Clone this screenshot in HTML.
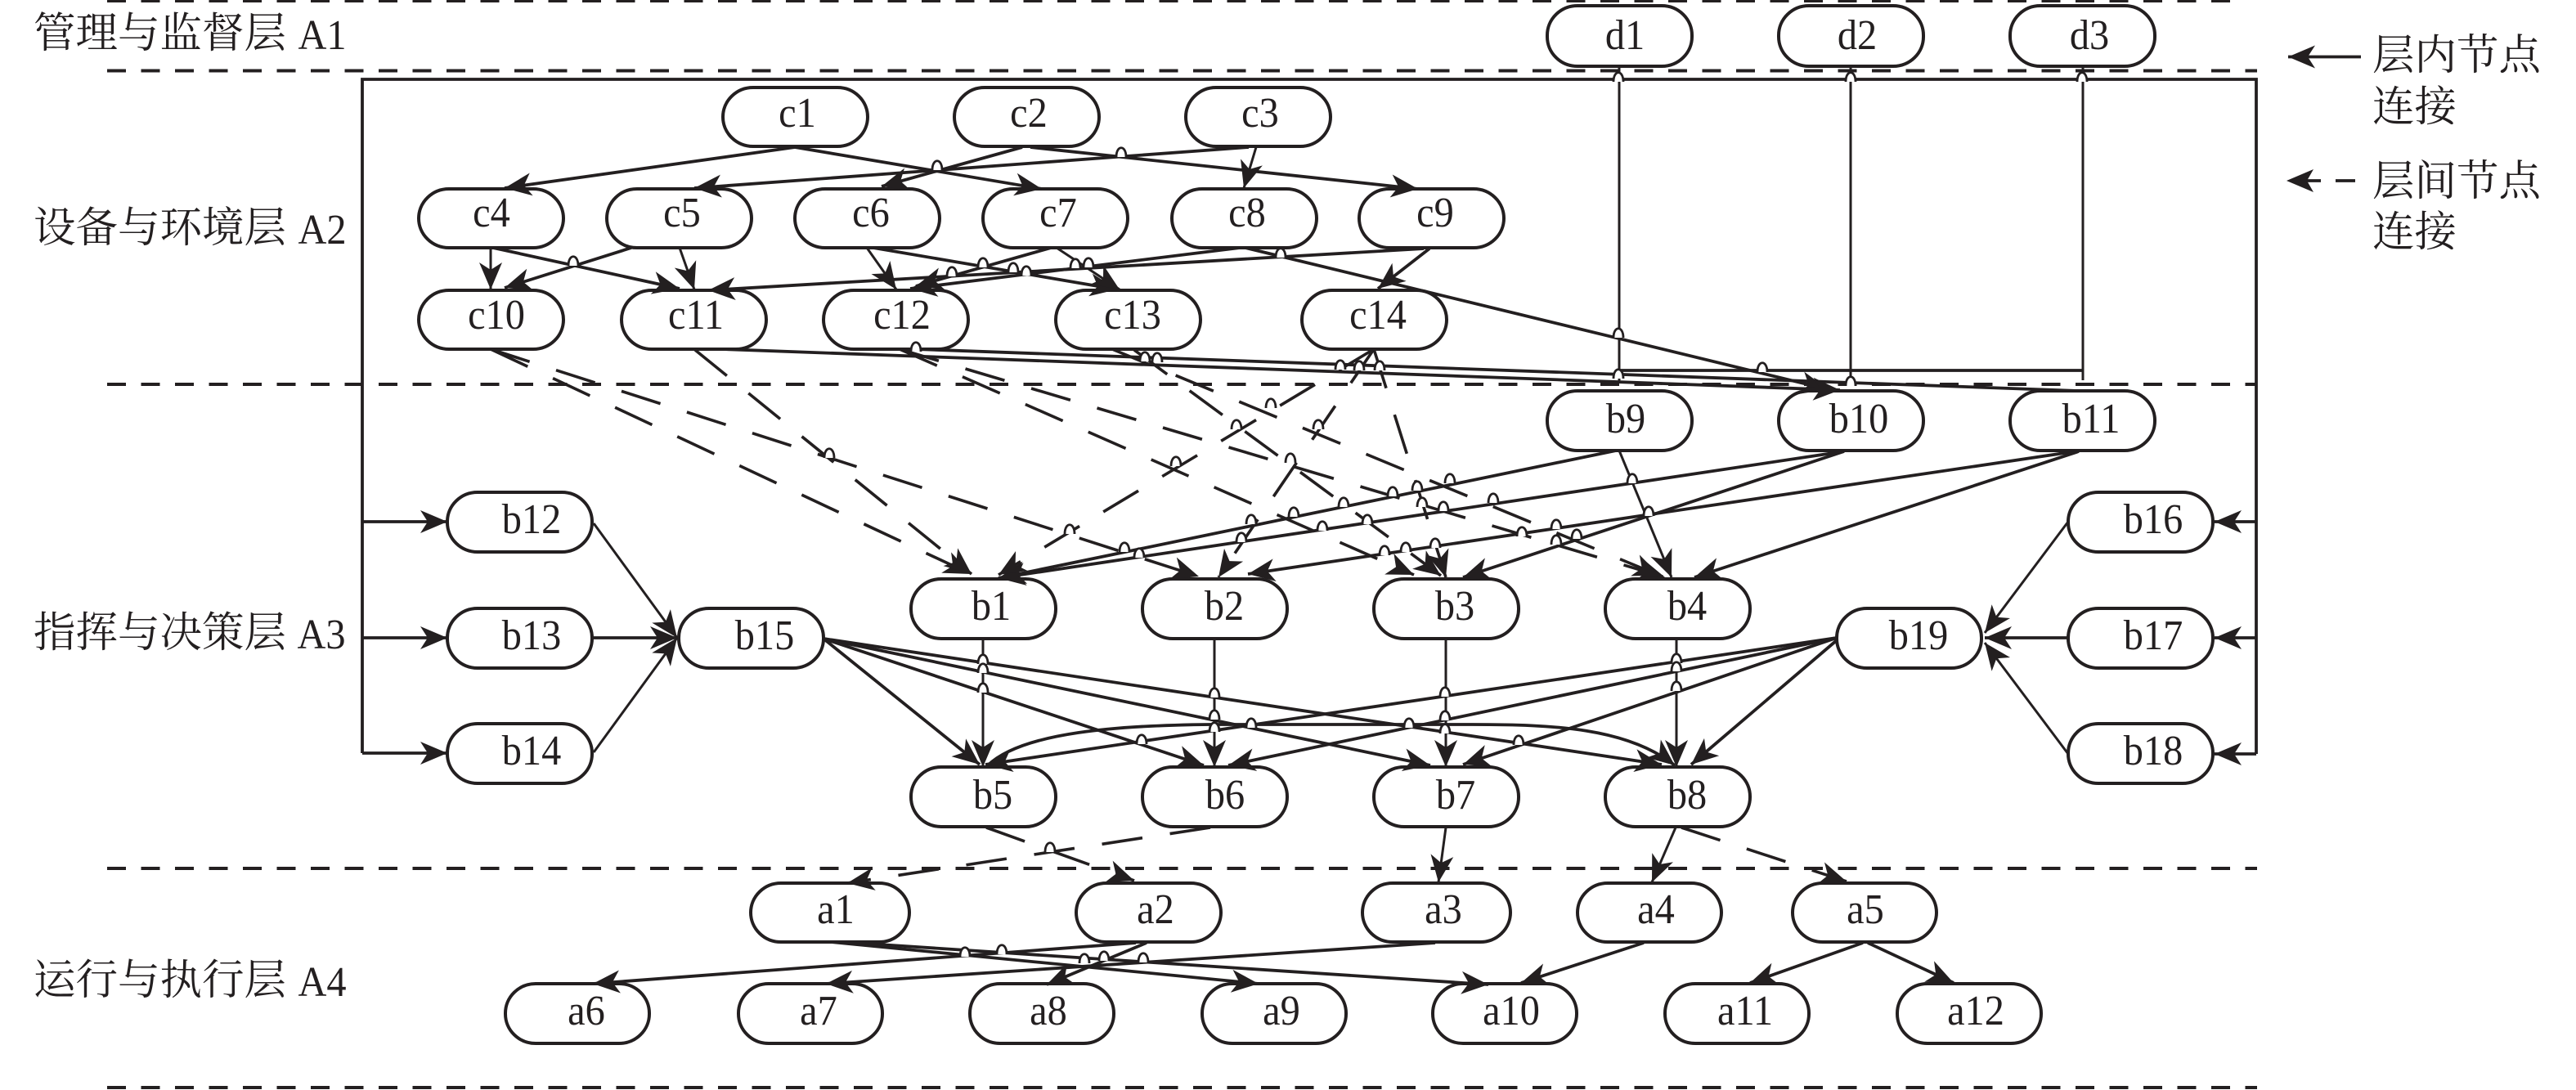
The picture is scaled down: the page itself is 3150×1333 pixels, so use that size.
<!DOCTYPE html>
<html>
<head>
<meta charset="utf-8">
<style>
html,body{margin:0;padding:0;background:#fff}
svg{display:block}
.n rect{fill:#fff;stroke:#231f20;stroke-width:4}
.t text{font-family:"Liberation Serif","Noto Serif CJK SC",serif;font-size:52px;fill:#231f20;text-anchor:middle}
.z text{font-family:"Noto Serif CJK SC","Liberation Serif",serif;font-size:51.500px;fill:#231f20}
.d path{stroke-dasharray:23 18.5;stroke-width:4;fill:none;stroke:#231f20}
.e path{fill:none;stroke:#231f20;stroke-width:3.8}
.v path{fill:none;stroke:#231f20;stroke-width:3}
.l path{fill:none;stroke:#231f20;stroke-width:3.6;stroke-dasharray:50 34}
#h{fill:#fff;stroke:#231f20;stroke-width:2.8}
</style>
</head>
<body>
<svg xmlns="http://www.w3.org/2000/svg" width="3150" height="1333" viewBox="0 0 3150 1333">
<defs>
<marker id="m" markerUnits="userSpaceOnUse" markerWidth="36" markerHeight="32" viewBox="0 0 36 32" refX="34" refY="16" orient="auto"><path d="M34 16L1 2L10 16L1 30Z" fill="#231f20"/></marker>
<path id="h" d="M-6 5C-6 -10 6 -10 6 5"/>
</defs>
<rect width="3150" height="1333" fill="#fff"/>

<g class="d">
<path d="M131 1H2736"/>
<path d="M131 86.5H2760"/>
<path d="M131 470H2760"/>
<path d="M131 1062H2760"/>
<path d="M131 1330H2760"/>
</g>

<g class="n">
<rect x="1892" y="7" width="177" height="74" rx="37" ry="36"/>
<rect x="2175" y="7" width="177" height="74" rx="37" ry="36"/>
<rect x="2458" y="7" width="177" height="74" rx="37" ry="36"/>
<rect x="884" y="107" width="177" height="72" rx="37" ry="36"/>
<rect x="1167" y="107" width="177" height="72" rx="37" ry="36"/>
<rect x="1450" y="107" width="177" height="72" rx="37" ry="36"/>
<rect x="512" y="231" width="177" height="72" rx="37" ry="36"/>
<rect x="742" y="231" width="177" height="72" rx="37" ry="36"/>
<rect x="972" y="231" width="177" height="72" rx="37" ry="36"/>
<rect x="1202" y="231" width="177" height="72" rx="37" ry="36"/>
<rect x="1433" y="231" width="177" height="72" rx="37" ry="36"/>
<rect x="1662" y="231" width="177" height="72" rx="37" ry="36"/>
<rect x="512" y="355" width="177" height="72" rx="37" ry="36"/>
<rect x="760" y="355" width="177" height="72" rx="37" ry="36"/>
<rect x="1007" y="355" width="177" height="72" rx="37" ry="36"/>
<rect x="1291" y="355" width="177" height="72" rx="37" ry="36"/>
<rect x="1592" y="355" width="177" height="72" rx="37" ry="36"/>
<rect x="1892" y="478" width="177" height="73" rx="37" ry="36"/>
<rect x="2175" y="478" width="177" height="73" rx="37" ry="36"/>
<rect x="2458" y="478" width="177" height="73" rx="37" ry="36"/>
<rect x="2529" y="602" width="177" height="73" rx="37" ry="36"/>
<rect x="2529" y="744" width="177" height="73" rx="37" ry="36"/>
<rect x="2529" y="885" width="177" height="73" rx="37" ry="36"/>
<rect x="2246" y="744" width="177" height="73" rx="37" ry="36"/>
<rect x="830" y="744" width="177" height="73" rx="37" ry="36"/>
<rect x="547" y="602" width="177" height="73" rx="37" ry="36"/>
<rect x="547" y="744" width="177" height="73" rx="37" ry="36"/>
<rect x="547" y="885" width="177" height="73" rx="37" ry="36"/>
<rect x="1114" y="708" width="177" height="73" rx="37" ry="36"/>
<rect x="1397" y="708" width="177" height="73" rx="37" ry="36"/>
<rect x="1680" y="708" width="177" height="73" rx="37" ry="36"/>
<rect x="1963" y="708" width="177" height="73" rx="37" ry="36"/>
<rect x="1114" y="938" width="177" height="73" rx="37" ry="36"/>
<rect x="1397" y="938" width="177" height="73" rx="37" ry="36"/>
<rect x="1680" y="938" width="177" height="73" rx="37" ry="36"/>
<rect x="1963" y="938" width="177" height="73" rx="37" ry="36"/>
<rect x="918" y="1080" width="194" height="72" rx="37" ry="36"/>
<rect x="1316" y="1080" width="177" height="72" rx="37" ry="36"/>
<rect x="1666" y="1080" width="181" height="72" rx="37" ry="36"/>
<rect x="1929" y="1080" width="176" height="72" rx="37" ry="36"/>
<rect x="2192" y="1080" width="176" height="72" rx="37" ry="36"/>
<rect x="618" y="1203" width="176" height="73" rx="37" ry="36"/>
<rect x="903" y="1203" width="176" height="73" rx="37" ry="36"/>
<rect x="1186" y="1203" width="176" height="73" rx="37" ry="36"/>
<rect x="1470" y="1203" width="176" height="73" rx="37" ry="36"/>
<rect x="1752" y="1203" width="176" height="73" rx="37" ry="36"/>
<rect x="2036" y="1203" width="176" height="73" rx="37" ry="36"/>
<rect x="2320" y="1203" width="176" height="73" rx="37" ry="36"/>
</g>

<g class="e">
<path d="M443 921V97H2759V922"/>
<path d="M1980 453H2547"/>
<path d="M1120 427L2542 478"/>
</g>
<g class="v">
<path d="M1980 81V468"/>
<path d="M2263 81V468"/>
<path d="M2547 81V465"/>
</g>

<g class="e" marker-end="url(#m)">
<path d="M443 638H547"/><path d="M443 780H547"/><path d="M443 921H547"/>
<path d="M2759 638H2708"/><path d="M2759 780H2708"/><path d="M2759 922H2708"/>
<path d="M2887 69.500H2798"/>
<path d="M972 180L617 230"/><path d="M972 180L1274 231"/>
<path d="M1250 180L1078 228"/><path d="M1260 180L1734 231"/>
<path d="M1527 180L849 230"/>
<path d="M603 303L831 353"/><path d="M772 303L617 352"/>
<path d="M1068 303L1366 354"/><path d="M1285 303L1120 350"/>
<path d="M1741 304L866 355"/><path d="M1516 303L1113 353"/>
<path d="M1523 303L2235 476"/><path d="M1748 304L1685 353"/>
<path d="M884 427L2250 477"/>
<path d="M1976 551L1221 707"/><path d="M2255 552L1221 707"/>
<path d="M2538 552L1526 702"/><path d="M2255 552L1789 706"/>
<path d="M2542 552L2072 706"/>
<path d="M1007 781L2032 935"/><path d="M1007 781L1749 936"/>
<path d="M1007 781L1472 936"/><path d="M1007 781L1198 935"/>
<path d="M2246 780L1205 935"/><path d="M2246 780L1502 936"/>
<path d="M2246 780L1789 935"/><path d="M2246 783L2068 935"/>
<path d="M1208 936C1250 895 1370 887 1480 886L1800 886C1900 886 1990 890 2048 936"/>
<path d="M2529 780H2427"/>
<path d="M724 780H828"/>
<path d="M1016 1152L1539 1203"/><path d="M1029 1152L1820 1204"/>
<path d="M1389 1153L725 1203"/><path d="M1402 1153L1280 1204"/>
<path d="M1755 1153L1010 1203"/><path d="M2010 1153L1860 1202"/>
<path d="M2278 1153L2140 1202"/><path d="M2284 1153L2389 1202"/>
</g>
<g class="v" marker-end="url(#m)">
<path d="M1536 180L1521 230"/>
<path d="M600 303V354"/><path d="M831 303L849 354"/>
<path d="M1060 303L1096 354"/><path d="M1292 303L1369 354"/>
<path d="M1980 551L2044 706"/>
<path d="M726 640L828 780"/><path d="M726 920L828 780"/>
<path d="M2529 638L2427 774"/><path d="M2529 922L2427 786"/>
<path d="M1202 781V938"/><path d="M1485 781V938"/>
<path d="M1768 781V938"/><path d="M2050 781V938"/>
<path d="M1768 1012L1759 1079"/><path d="M2049 1012L2020 1079"/>
</g>

<g class="l" marker-end="url(#m)">
<path d="M600 427L1187 702"/>
<path d="M600 427L1466 705"/>
<path d="M850 428L1188 702"/>
<path d="M1100 427L1729 703"/>
<path d="M1100 427L2036 706"/>
<path d="M1387 428L1762 704"/>
<path d="M1360 427L2030 704"/>
<path d="M1680 427L1221 703"/>
<path d="M1680 427L1490 706"/>
<path d="M1680 427L1768 706"/>
<path d="M1206 1012L1387 1077"/>
<path d="M1480 1012L1036 1080"/>
<path d="M2056 1012L2258 1078"/>
</g>

<g class="e">
<path d="M2856 221H2880"/>
<path d="M2820 221H2838"/>
</g>
<path d="M2796 221L2829 207L2821 221L2829 235Z" fill="#231f20"/>

<g>
<use href="#h" x="701" y="320"/><use href="#h" x="1146" y="203"/><use href="#h" x="1371" y="187"/>
<use href="#h" x="1566" y="310"/><use href="#h" x="1202" y="322"/><use href="#h" x="1164" y="333"/>
<use href="#h" x="1239" y="328"/><use href="#h" x="1255" y="332"/><use href="#h" x="1315" y="323"/>
<use href="#h" x="1331" y="322"/><use href="#h" x="1979" y="408"/><use href="#h" x="1979" y="458"/>
<use href="#h" x="1979" y="95"/><use href="#h" x="2263" y="95"/><use href="#h" x="2546" y="95"/>
<use href="#h" x="2155" y="450"/><use href="#h" x="2263" y="467"/><use href="#h" x="1120" y="425"/>
<use href="#h" x="1400" y="437"/><use href="#h" x="1415" y="438"/><use href="#h" x="1639" y="447"/>
<use href="#h" x="1662" y="448"/><use href="#h" x="1687" y="448"/><use href="#h" x="1014" y="555"/>
<use href="#h" x="1438" y="565"/><use href="#h" x="1308" y="648"/><use href="#h" x="1375" y="670"/>
<use href="#h" x="1393" y="677"/><use href="#h" x="1202" y="807"/><use href="#h" x="1202" y="818"/>
<use href="#h" x="1202" y="842"/><use href="#h" x="1485" y="848"/><use href="#h" x="1485" y="875"/>
<use href="#h" x="1485" y="890"/><use href="#h" x="1396" y="905"/><use href="#h" x="1554" y="494"/>
<use href="#h" x="1512" y="520"/><use href="#h" x="1612" y="520"/><use href="#h" x="1578" y="561"/>
<use href="#h" x="1773" y="586"/><use href="#h" x="1996" y="586"/><use href="#h" x="1733" y="595"/>
<use href="#h" x="1703" y="602"/><use href="#h" x="1643" y="615"/><use href="#h" x="1826" y="610"/>
<use href="#h" x="1739" y="615"/><use href="#h" x="1765" y="620"/><use href="#h" x="2016" y="626"/>
<use href="#h" x="1582" y="627"/><use href="#h" x="1530" y="636"/><use href="#h" x="1617" y="644"/>
<use href="#h" x="1672" y="636"/><use href="#h" x="1518" y="658"/><use href="#h" x="1861" y="651"/>
<use href="#h" x="1903" y="642"/><use href="#h" x="1928" y="654"/><use href="#h" x="1903" y="661"/>
<use href="#h" x="1693" y="674"/><use href="#h" x="1719" y="670"/><use href="#h" x="1755" y="665"/>
<use href="#h" x="2050" y="806"/><use href="#h" x="2050" y="816"/><use href="#h" x="2050" y="840"/>
<use href="#h" x="1767" y="847"/><use href="#h" x="1767" y="876"/><use href="#h" x="1767" y="892"/>
<use href="#h" x="1530" y="885"/><use href="#h" x="1723" y="885"/><use href="#h" x="1857" y="906"/>
<use href="#h" x="1180" y="1165"/><use href="#h" x="1225" y="1162"/><use href="#h" x="1326" y="1173"/>
<use href="#h" x="1350" y="1170"/><use href="#h" x="1398" y="1172"/><use href="#h" x="1284" y="1037"/>
</g>

<g class="t">
<text transform="translate(1987,60) scale(.93,1)">d1</text>
<text transform="translate(2271,60) scale(.93,1)">d2</text>
<text transform="translate(2555,60) scale(.93,1)">d3</text>
<text transform="translate(975,155) scale(.93,1)">c1</text>
<text transform="translate(1258,155) scale(.93,1)">c2</text>
<text transform="translate(1541,155) scale(.93,1)">c3</text>
<text transform="translate(601,277) scale(.93,1)">c4</text>
<text transform="translate(834,277) scale(.93,1)">c5</text>
<text transform="translate(1065,277) scale(.93,1)">c6</text>
<text transform="translate(1294,277) scale(.93,1)">c7</text>
<text transform="translate(1525,277) scale(.93,1)">c8</text>
<text transform="translate(1755,277) scale(.93,1)">c9</text>
<text transform="translate(607,402) scale(.93,1)">c10</text>
<text transform="translate(851,402) scale(.93,1)">c11</text>
<text transform="translate(1103,402) scale(.93,1)">c12</text>
<text transform="translate(1385,402) scale(.93,1)">c13</text>
<text transform="translate(1685,402) scale(.93,1)">c14</text>
<text transform="translate(1988,529) scale(.93,1)">b9</text>
<text transform="translate(2273,529) scale(.93,1)">b10</text>
<text transform="translate(2557,529) scale(.93,1)">b11</text>
<text transform="translate(650,652) scale(.93,1)">b12</text>
<text transform="translate(650,794) scale(.93,1)">b13</text>
<text transform="translate(650,935) scale(.93,1)">b14</text>
<text transform="translate(935,794) scale(.93,1)">b15</text>
<text transform="translate(2633,652) scale(.93,1)">b16</text>
<text transform="translate(2633,794) scale(.93,1)">b17</text>
<text transform="translate(2633,935) scale(.93,1)">b18</text>
<text transform="translate(2346,794) scale(.93,1)">b19</text>
<text transform="translate(1212,758) scale(.93,1)">b1</text>
<text transform="translate(1497,758) scale(.93,1)">b2</text>
<text transform="translate(1779,758) scale(.93,1)">b3</text>
<text transform="translate(2063,758) scale(.93,1)">b4</text>
<text transform="translate(1214,989) scale(.93,1)">b5</text>
<text transform="translate(1498,989) scale(.93,1)">b6</text>
<text transform="translate(1780,989) scale(.93,1)">b7</text>
<text transform="translate(2063,989) scale(.93,1)">b8</text>
<text transform="translate(1022,1129) scale(.93,1)">a1</text>
<text transform="translate(1413,1129) scale(.93,1)">a2</text>
<text transform="translate(1765,1129) scale(.93,1)">a3</text>
<text transform="translate(2025,1129) scale(.93,1)">a4</text>
<text transform="translate(2281,1129) scale(.93,1)">a5</text>
<text transform="translate(717,1253) scale(.93,1)">a6</text>
<text transform="translate(1001,1253) scale(.93,1)">a7</text>
<text transform="translate(1282,1253) scale(.93,1)">a8</text>
<text transform="translate(1567,1253) scale(.93,1)">a9</text>
<text transform="translate(1848,1253) scale(.93,1)">a10</text>
<text transform="translate(2134,1253) scale(.93,1)">a11</text>
<text transform="translate(2416,1253) scale(.93,1)">a12</text>
<text transform="translate(394,60) scale(.93,1)">A1</text>
<text transform="translate(394,298) scale(.93,1)">A2</text>
<text transform="translate(393,793) scale(.93,1)">A3</text>
<text transform="translate(394,1218) scale(.93,1)">A4</text>
</g>
<g class="z">
<text x="41" y="58">管理与监督层</text>
<text x="41" y="296">设备与环境层</text>
<text x="41" y="791">指挥与决策层</text>
<text x="41" y="1216">运行与执行层</text>
<text x="2901" y="85">层内节点</text>
<text x="2901" y="148">连接</text>
<text x="2901" y="239">层间节点</text>
<text x="2901" y="301">连接</text>
</g>
</svg>
</body>
</html>
